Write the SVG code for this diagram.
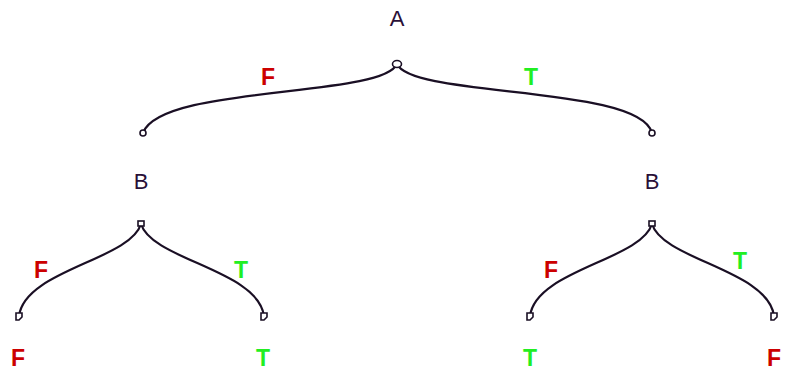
<svg xmlns="http://www.w3.org/2000/svg" width="789" height="376" viewBox="0 0 789 376">
<style>
.var{font-family:"Liberation Sans",Arial,sans-serif;font-size:22px;fill:#2a1038;text-anchor:middle}
.f{font-family:"Liberation Sans",Arial,sans-serif;font-size:23px;font-weight:bold;fill:#cc0000;text-anchor:middle}
.t{font-family:"Liberation Sans",Arial,sans-serif;font-size:23px;font-weight:bold;fill:#22ee22;text-anchor:middle}
.edge{fill:none;stroke:#1a0f24;stroke-width:2.2}
.port{fill:#fff;stroke:#1a0f24;stroke-width:1.6}
</style>
<rect width="789" height="376" fill="#fff"/>
<g id="connectors">
<path class="edge" d="M397,64 C382,98 160,85 143,133"/>
<path class="edge" d="M397,64 C412,98 640,85 652,133"/>
<path class="edge" d="M141,224 C130,260 25,270 19,316"/>
<path class="edge" d="M141,224 C152,260 258,270 264,316"/>
<path class="edge" d="M652,224 C641,260 536,270 530,316"/>
<path class="edge" d="M652,224 C663,260 768,270 774,316"/>
<text class="f" x="268" y="85">F</text>
<text class="t" x="531" y="85">T</text>
<text class="f" x="41" y="278">F</text>
<text class="t" x="241" y="278">T</text>
<text class="f" x="551" y="278">F</text>
<text class="t" x="740" y="269">T</text>
</g>
<g id="nodeA">
<text class="var" x="397" y="26">A</text>
<ellipse class="port" cx="397" cy="64" rx="4.5" ry="3.5"/>
</g>
<g id="nodeB1">
<text class="var" x="141" y="189">B</text>
<circle class="port" cx="143" cy="133" r="3"/>
<rect class="port" x="138" y="221" width="6" height="5"/>
</g>
<g id="nodeB2">
<text class="var" x="652" y="189">B</text>
<circle class="port" cx="652" cy="133" r="3"/>
<rect class="port" x="649" y="221" width="6" height="5"/>
</g>
<g id="leaf1">
<path class="port" d="M16,313 h6 v4 l-3,3 h-3 z"/>
<text class="f" x="18" y="366">F</text>
</g>
<g id="leaf2">
<path class="port" d="M261,313 h6 v4 l-3,3 h-3 z"/>
<text class="t" x="263" y="366">T</text>
</g>
<g id="leaf3">
<path class="port" d="M527,313 h6 v4 l-3,3 h-3 z"/>
<text class="t" x="530" y="366">T</text>
</g>
<g id="leaf4">
<path class="port" d="M771,313 h6 v4 l-3,3 h-3 z"/>
<text class="f" x="774" y="366">F</text>
</g>
</svg>
